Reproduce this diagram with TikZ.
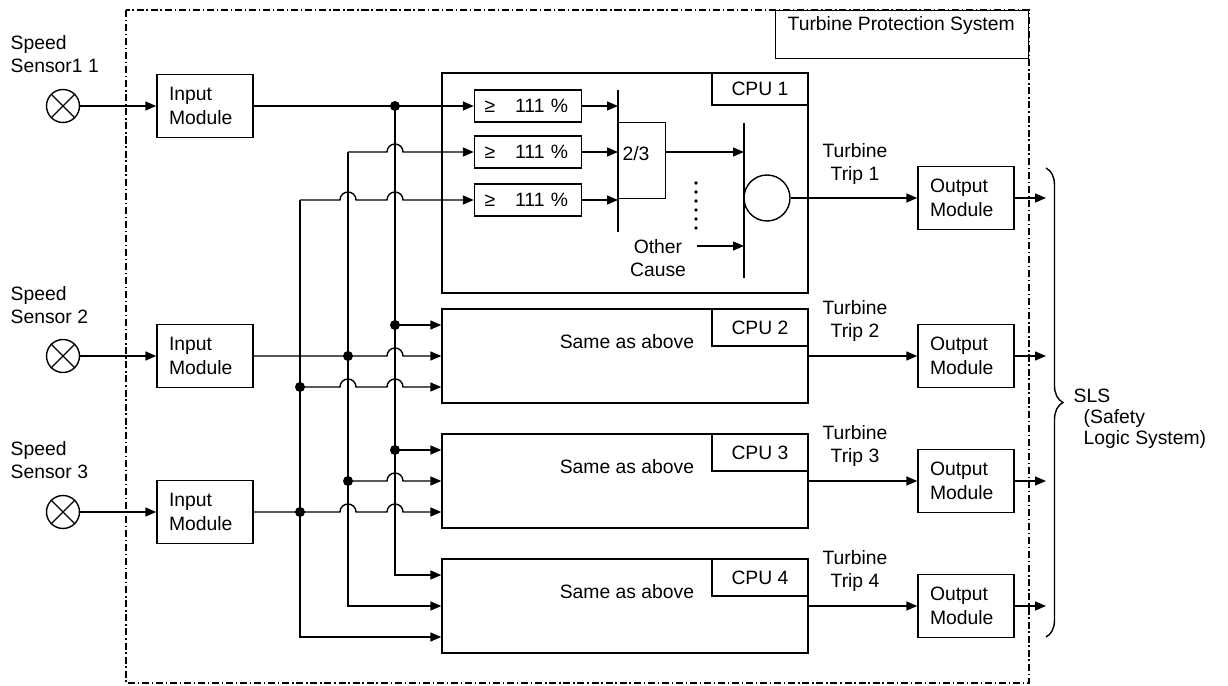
\documentclass[tikz,border=0pt]{standalone}
\usepackage{fontspec}
\setmainfont{Liberation Sans}
\usetikzlibrary{arrows.meta,decorations.pathreplacing}
\newcommand{\hop}{arc[start angle=180,end angle=0,radius=0.16cm]}

\begin{document}
\begin{tikzpicture}[
  x=0.02cm, y=-0.02cm,
  line width=0.8pt,
  every node/.style={font=\fontsize{11}{13.5}\selectfont},
  lbl/.style={inner sep=0pt, align=left},
  sensor/.style={draw, circle, minimum size=0.66cm, inner sep=0pt, path picture={
      \draw (path picture bounding box.north west) -- (path picture bounding box.south east)
            (path picture bounding box.north east) -- (path picture bounding box.south west);}},
  module/.style={draw, minimum width=1.92cm, minimum height=1.26cm, text width=1.44cm, inner xsep=0.24cm, align=left},
  cmp/.style={draw, minimum height=0.64cm, text width=1.74cm, inner xsep=0.2cm, align=left},
  cpu/.style={draw, minimum width=7.32cm, minimum height=1.88cm},
  cpulbl/.style={draw, minimum width=1.92cm, minimum height=0.74cm, anchor=north east},
  dot/.style={circle, fill, inner sep=0pt, minimum size=0.2cm},
  sig/.style={-{Triangle[length=0.22cm, width=0.18cm]}},
  frame/.style={line width=0.7pt, dash pattern=on 4pt off 1.6pt on 0.8pt off 1.6pt}]

\useasboundingbox (0,0) rectangle (1228,686);

\draw[frame] (126,10) rectangle (1029,683);
\node[draw, fill=white, anchor=north east, minimum width=5.06cm, minimum height=0.96cm] (tps) at (1029,10) {};
\node[lbl, anchor=west] (tpstext) at (787,26) {Turbine Protection System};

\node[sensor] (s1) at (63,106) {};
\node[sensor] (s2) at (63,356) {};
\node[sensor] (s3) at (63,512) {};
\node[lbl, anchor=west] (l1) at (10,54) {Speed\\Sensor1 1};
\node[lbl, anchor=west] (l2) at (10,305) {Speed\\Sensor 2};
\node[lbl, anchor=west] (l3) at (10,460) {Speed\\Sensor 3};

\node[module] (in1) at (205,106) {Input\\Module};
\node[module] (in2) at (205,356) {Input\\Module};
\node[module] (in3) at (205,512) {Input\\Module};

\draw[sig] (s1) -- (in1);
\draw[sig] (s2) -- (in2);
\draw[sig] (s3) -- (in3);

\node[cpu, minimum height=4.4cm] (cpu1) at (625,183) {};
\node[cpu] (cpu2) at (625,356) {};
\node[cpu] (cpu3) at (625,481) {};
\node[cpu] (cpu4) at (625,606) {};
\node[cpulbl, minimum height=0.64cm] (c1) at (cpu1.north east) {CPU 1};
\node[cpulbl] (c2) at (cpu2.north east) {CPU 2};
\node[cpulbl] (c3) at (cpu3.north east) {CPU 3};
\node[cpulbl] (c4) at (cpu4.north east) {CPU 4};
\node (same2) at (627,342) {Same as above};
\node (same3) at (627,467) {Same as above};
\node (same4) at (627,592) {Same as above};

\node[cmp] (cmp1) at (528,106) {≥\hspace{0.4cm}111 \%};
\node[cmp] (cmp2) at (528,152) {≥\hspace{0.4cm}111 \%};
\node[cmp] (cmp3) at (528,200) {≥\hspace{0.4cm}111 \%};

\coordinate (bar1) at (618,90);
\coordinate (bar1b) at (618,232);
\coordinate (bar2) at (744,123);
\coordinate (bar2b) at (744,278);
\draw (bar1) -- (bar1b);
\draw (bar2) -- (bar2b);
\node[draw, anchor=north west, minimum width=0.94cm, minimum height=1.52cm] (vote) at (618,122) {};
\node (votetext) at (636,154) {2/3};
\draw[sig] (cmp1.east) -- (cmp1.east -| bar1);
\draw[sig] (cmp2.east) -- (cmp2.east -| bar1);
\draw[sig] (cmp3.east) -- (cmp3.east -| bar1);
\draw[sig] (vote.east |- cmp2.east) -- (cmp2.east -| bar2);
\node[draw, circle, minimum size=0.92cm, inner sep=0pt] (trip) at (767,198) {};
\foreach \k in {0,...,5}
  \fill (696,183+9*\k) circle (1.1pt);
\node[lbl, align=center] (other) at (658,258) {Other\\Cause};
\coordinate (otherend) at (697,246);
\draw[sig] (otherend) -- (otherend -| bar2);

\coordinate (ja) at (395,106);
\coordinate (jb) at (348,152);
\coordinate (jc) at (300,200);
\coordinate (a2) at (395,325);
\coordinate (b2) at (348,356);
\coordinate (c2) at (300,387);
\coordinate (a3) at (395,450);
\coordinate (b3) at (348,481);
\coordinate (c3) at (300,512);

\draw[sig] (ja) |- ([yshift=0.62cm]cpu4.west);
\draw[sig] (jb) |- (cpu4.west);
\draw[sig] (jc) |- ([yshift=-0.62cm]cpu4.west);

\draw[sig] (in1.east) -- (cmp1.west);
\draw[sig] (jb) -- ([xshift=-0.16cm]ja |- jb) \hop -- (cmp2.west);
\draw[sig] (jc) -- ([xshift=-0.16cm]jb |- jc) \hop -- ([xshift=-0.16cm]ja |- jc) \hop -- (cmp3.west);

\draw[sig] (a2) -- (a2 -| cpu2.west);
\draw[sig] (in2.east) -- ([xshift=-0.16cm]a2 |- in2.east) \hop -- (in2.east -| cpu2.west);
\draw[sig] (c2) -- ([xshift=-0.16cm]b2 |- c2) \hop -- ([xshift=-0.16cm]a2 |- c2) \hop -- (c2 -| cpu2.west);

\draw[sig] (a3) -- (a3 -| cpu3.west);
\draw[sig] (b3) -- ([xshift=-0.16cm]a3 |- b3) \hop -- (b3 -| cpu3.west);
\draw[sig] (in3.east) -- ([xshift=-0.16cm]b3 |- in3.east) \hop -- ([xshift=-0.16cm]a3 |- in3.east) \hop -- (in3.east -| cpu3.west);

\node[dot] (da1) at (ja) {};
\node[dot] (da2) at (a2) {};
\node[dot] (da3) at (a3) {};
\node[dot] (db2) at (b2) {};
\node[dot] (db3) at (b3) {};
\node[dot] (dc2) at (c2) {};
\node[dot] (dc3) at (c3) {};

\node[module] (out1) at (966,198) {Output\\Module};
\node[module] (out2) at (966,356) {Output\\Module};
\node[module] (out3) at (966,481) {Output\\Module};
\node[module] (out4) at (966,606) {Output\\Module};

\draw[sig] (trip.east) -- (out1.west);
\draw[sig] (cpu2.east) -- (out2.west);
\draw[sig] (cpu3.east) -- (out3.west);
\draw[sig] (cpu4.east) -- (out4.west);

\node[lbl, align=center] (tt1) at (855,164) {Turbine\\Trip 1};
\node[lbl, align=center] (tt2) at (855,321) {Turbine\\Trip 2};
\node[lbl, align=center] (tt3) at (855,446) {Turbine\\Trip 3};
\node[lbl, align=center] (tt4) at (855,571) {Turbine\\Trip 4};

\coordinate (br) at (1046,168);
\coordinate (brb) at (1046,637);
\draw[sig] (out1.east) -- (out1.east -| br);
\draw[sig] (out2.east) -- (out2.east -| br);
\draw[sig] (out3.east) -- (out3.east -| br);
\draw[sig] (out4.east) -- (out4.east -| br);
\draw[decorate, decoration={brace, amplitude=0.34cm}] (br) -- (brb);

\node[lbl, anchor=west, font=\fontsize{11}{12}\selectfont] (sls) at (1073,419) {SLS\\\hspace*{0.2cm}(Safety\\\hspace*{0.2cm}Logic System)};
\end{tikzpicture}
\end{document}
